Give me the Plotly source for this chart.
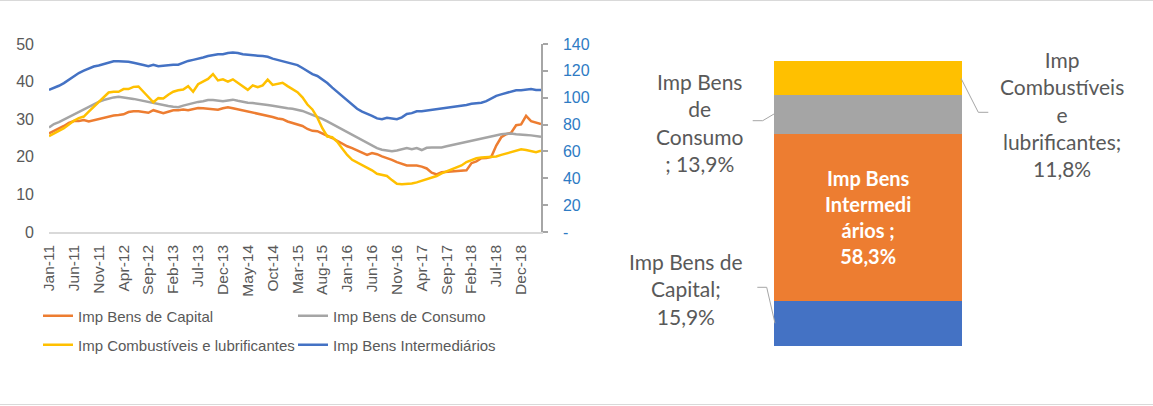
import pandas as pd
import plotly.graph_objects as go

# ---------------- data ----------------
months = list(pd.date_range("2011-01-01", periods=100, freq="MS").strftime("%b-%y"))

capital = [26.2, 26.8, 27.5, 28.2, 29.0, 29.5, 29.5, 29.8, 29.4, 29.7,
           30.2, 30.5, 30.8, 31.0, 31.1, 31.3, 31.9, 32.1, 32.1, 31.8,
           31.7, 32.4, 32.0, 31.6, 32.0, 32.4, 32.4, 32.6, 32.4, 32.7,
           33.0, 32.9, 32.7, 32.6, 32.5, 32.9, 33.2, 32.9, 32.6, 32.3,
           32.0, 31.8, 31.5, 31.3, 31.0, 30.6, 30.2, 30.0, 29.4, 29.0,
           28.7, 28.2, 27.4, 26.9, 26.8, 26.3, 25.6, 25.0, 24.2, 23.6,
           22.8, 22.3, 21.7, 21.1, 20.5, 21.0, 20.7, 20.1, 19.7, 19.2,
           18.6, 18.2, 17.7, 17.7, 17.7, 17.4, 16.9, 15.8, 15.3, 15.9,
           16.0, 16.1, 16.2, 16.2, 16.4, 18.3, 18.8, 19.6, 19.7, 20.0,
           23.0, 25.2, 26.0, 26.4, 28.4, 28.6, 30.9, 29.5, 29.2, 28.7]

consumo = [27.8, 28.7, 29.2, 29.9, 30.6, 31.3, 31.9, 32.7, 33.4, 34.0,
           34.6, 35.1, 35.5, 35.8, 36.0, 35.9, 35.6, 35.4, 35.1, 34.9,
           34.6, 34.3, 34.0, 33.7, 33.5, 33.3, 33.2, 33.6, 34.0, 34.4,
           34.6, 34.8, 35.1, 35.1, 34.9, 34.8, 35.0, 35.2, 34.9, 34.6,
           34.4, 34.3, 34.2, 34.0, 33.8, 33.6, 33.3, 33.1, 32.9, 32.8,
           32.6, 32.2, 31.7, 31.2, 30.6, 30.1, 29.4, 28.7, 28.0, 27.3,
           26.6, 25.9, 25.1, 24.4, 23.7, 23.0, 22.3, 21.9, 21.6, 21.5,
           21.7, 22.0, 22.3, 22.0, 22.3, 21.8, 22.4, 22.5, 22.5, 22.5,
           22.8, 23.1, 23.4, 23.7, 23.9, 24.2, 24.5, 24.8, 25.1, 25.5,
           25.8, 26.0, 26.1, 26.2, 26.0, 25.8, 25.8, 25.7, 25.5, 25.3]

combustiveis = [25.5, 26.2, 26.8, 27.6, 28.6, 29.6, 30.3, 30.7, 32.0, 33.3,
                34.4, 35.7, 37.1, 37.3, 37.3, 38.0, 38.0, 38.6, 38.7, 37.3,
                35.8, 34.5, 35.6, 35.5, 36.5, 37.3, 37.7, 37.9, 38.8, 37.3,
                39.3, 40.1, 40.7, 42.0, 40.3, 40.6, 40.0, 40.6, 39.6, 38.6,
                37.8, 39.0, 38.5, 39.0, 40.5, 39.1, 39.3, 39.7, 38.8, 38.0,
                37.2, 35.8, 33.9, 32.6, 30.4, 27.6, 25.4, 25.2, 24.0, 22.2,
                20.5, 19.2, 18.5, 17.8, 17.3, 16.4, 15.5, 15.1, 14.9, 13.8,
                12.8, 12.7, 12.7, 12.9, 13.2, 13.6, 13.9, 14.3, 14.9, 15.6,
                16.1, 16.6, 17.1, 17.7, 18.6, 19.2, 19.6, 19.8, 19.9, 19.9,
                20.1, 20.5, 20.9, 21.4, 21.8, 22.0, 21.8, 21.5, 21.2, 21.6]

# secondary axis (0-140)
intermediarios = [105.8, 107.2, 108.9, 110.9, 113.4, 116.5, 118.4, 120.1, 121.8, 123.2,
                  124.0, 125.2, 126.0, 127.1, 127.1, 127.1, 126.8, 126.0, 125.4, 124.3,
                  123.5, 124.6, 123.5, 123.8, 124.6, 124.6, 124.6, 126.3, 127.4, 128.2,
                  128.8, 129.9, 131.0, 131.9, 132.4, 132.4, 133.3, 133.6, 133.3, 132.4,
                  132.2, 131.9, 131.3, 131.0, 130.5, 129.1, 128.2, 127.4, 126.3, 125.4,
                  124.3, 122.1, 119.6, 117.6, 116.2, 113.7, 110.9, 107.5, 104.4, 101.4,
                  98.0, 94.9, 91.8, 89.6, 88.2, 86.5, 84.6, 84.0, 85.1, 84.8,
                  84.0, 85.4, 87.9, 88.5, 89.9, 89.9, 90.4, 91.3, 91.6, 92.1,
                  92.7, 93.2, 93.8, 94.1, 94.6, 95.5, 96.0, 96.3, 97.4, 99.4,
                  101.4, 102.5, 103.6, 104.7, 105.6, 105.6, 106.1, 106.4, 105.8, 105.8]

left_ticks = [0, 10, 20, 30, 40, 50]
right_ticks = [0, 20, 40, 60, 80, 100, 120, 140]
right_ticktext = ["-", "20", "40", "60", "80", "100", "120", "140"]

# composition (stacked bar)
comp_names = ["Imp Bens de Capital", "Imp Bens Intermediários",
              "Imp Bens de Consumo", "Imp Combustíveis e lubrificantes"]
comp_values = [15.9, 58.3, 13.9, 11.8]

# ---------------- styling ----------------
W, H = 1153, 406
ORANGE, GRAY, YELLOW, BLUE = "#ED7D31", "#A5A5A5", "#FFC000", "#4472C4"
TXT = "#595959"
FONT = "Liberation Sans, Arial, sans-serif"
CAL = "Lato, Carlito, Calibri, sans-serif"


def px(x):
    return x / W


def py(y):
    return 1 - y / H


fig = go.Figure()

line_series = [
    ("Imp Bens de Capital", capital, ORANGE, "y", "legend"),
    ("Imp Bens de Consumo", consumo, GRAY, "y", "legend2"),
    ("Imp Combustíveis e lubrificantes", combustiveis, YELLOW, "y", "legend3"),
    ("Imp Bens Intermediários", intermediarios, BLUE, "y2", "legend4"),
]
for name, vals, col, yax, leg in line_series:
    fig.add_trace(go.Scatter(x=months, y=vals, name=name, mode="lines",
                             line=dict(color=col, width=2.5),
                             xaxis="x", yaxis=yax, legend=leg,
                             hoverinfo="skip"))

bar_colors = [BLUE, ORANGE, GRAY, YELLOW]
for name, v, col in zip(comp_names, comp_values, bar_colors):
    fig.add_trace(go.Bar(x=[0], y=[v], name=name, marker=dict(color=col, line=dict(width=0)),
                         width=1, xaxis="x2", yaxis="y3", showlegend=False,
                         hoverinfo="skip"))

# ---------------- annotations for the bar ----------------
def fmt(v):
    return f"{v:.1f}".replace(".", ",") + "%"

cum = []
s = 0
for v in comp_values:
    cum.append(s + v / 2)
    s += v
total = s

annotations = [
    dict(x=0, y=cum[1], xref="x2", yref="y3", showarrow=False,
         text="<b>Imp Bens<br>Intermedi<br>ários ;<br>" + fmt(comp_values[1]) + "</b>",
         font=dict(family=CAL, size=20, color="white"), align="center"),
    dict(x=-0.5, y=cum[2], xref="x2", yref="y3", showarrow=False, xanchor="right",
         xshift=-28, yshift=-8,
         text="Imp Bens<br>de<br>Consumo<br>; " + fmt(comp_values[2]),
         font=dict(family=CAL, size=21, color=TXT), align="center"),
    dict(x=0.5, y=cum[3], xref="x2", yref="y3", showarrow=False, xanchor="left",
         xshift=36, yshift=-36,
         text="Imp<br>Combustíveis<br>e<br>lubrificantes;<br>" + fmt(comp_values[3]),
         font=dict(family=CAL, size=21, color=TXT), align="center"),
    dict(x=-0.5, y=cum[0], xref="x2", yref="y3", showarrow=False, xanchor="right",
         xshift=-29, yshift=34,
         text="Imp Bens de<br>Capital;<br>" + fmt(comp_values[0]),
         font=dict(family=CAL, size=21, color=TXT), align="center"),
]

def path(pts):
    return "M " + " L ".join(f"{px(x):.5f},{py(y):.5f}" for x, y in pts)

leader = dict(color="#A6A6A6", width=1)
shapes = [
    dict(type="path", xref="paper", yref="paper", line=leader,
         path=path([(752.7, 120.7), (762.7, 120.7), (774, 114)])),
    dict(type="path", xref="paper", yref="paper", line=leader,
         path=path([(961, 78.3), (978.3, 112.3), (988.3, 112.3)])),
    dict(type="path", xref="paper", yref="paper", line=leader,
         path=path([(757.3, 287.3), (766.7, 287.3), (775, 323.3)])),
    dict(type="line", xref="paper", yref="paper", x0=0, x1=1, y0=py(0.5), y1=py(0.5),
         line=dict(color="#D9D9D9", width=1)),
    dict(type="line", xref="paper", yref="paper", x0=0, x1=1, y0=py(404.5), y1=py(404.5),
         line=dict(color="#D9D9D9", width=1)),
]

legend_common = dict(orientation="v", font=dict(family=FONT, size=15, color=TXT),
                     bgcolor="rgba(0,0,0,0)", borderwidth=0, itemwidth=30,
                     xanchor="left", yanchor="middle", tracegroupgap=0)

fig.update_layout(
    width=W, height=H, autosize=False,
    margin=dict(l=0, r=0, t=0, b=0, autoexpand=False),
    paper_bgcolor="white", plot_bgcolor="white",
    font=dict(family=FONT, size=15, color=TXT),
    barmode="stack",
    showlegend=True,
    legend=dict(x=px(38), y=py(316), **legend_common),
    legend2=dict(x=px(293), y=py(316), **legend_common),
    legend3=dict(x=px(38), y=py(345), **legend_common),
    legend4=dict(x=px(293), y=py(345), **legend_common),
    xaxis=dict(domain=[px(49), px(541)], type="category", range=[0, len(months) - 1],
               tickmode="array", tickvals=months[::5], tickangle=-90,
               showline=True, linecolor="#D9D9D9", linewidth=1.5,
               showgrid=False, zeroline=False, ticks="", ticklabelstandoff=5,
               tickfont=dict(family=FONT, size=15.5, color=TXT), anchor="y",
               automargin=False),
    yaxis=dict(domain=[py(232), py(44)], range=[0, 50], tickvals=left_ticks,
               showgrid=False, zeroline=False, showline=False, ticks="",
               ticklabelstandoff=14, tickfont=dict(family=FONT, size=16, color=TXT),
               anchor="x", automargin=False),
    yaxis2=dict(overlaying="y", side="right", range=[0, 140], tickvals=right_ticks,
                ticktext=right_ticktext, showgrid=False, zeroline=False,
                showline=True, linecolor="#A6A6A6", linewidth=1.5,
                ticks="outside", ticklen=5, tickcolor="#A6A6A6", tickwidth=1.5,
                ticklabelstandoff=12, automargin=False,
                tickfont=dict(family=FONT, size=16, color="#2E7BC4"), anchor="x"),
    xaxis2=dict(domain=[px(774), px(962)], range=[-0.5, 0.5], visible=False,
                anchor="y3", fixedrange=True),
    yaxis3=dict(domain=[py(346), py(61)], range=[0, total], visible=False,
                anchor="x2", fixedrange=True),
    annotations=annotations,
    shapes=shapes,
)

post = ("document.body.style.margin='0';document.body.style.overflow='hidden';"
        "var gd=document.getElementById('{plot_id}');"
        "Plotly.relayout(gd,{width:%d,height:%d});" % (W, H))

fig.write_html("out.html", config={"displayModeBar": False, "responsive": False},
               post_script=post)
